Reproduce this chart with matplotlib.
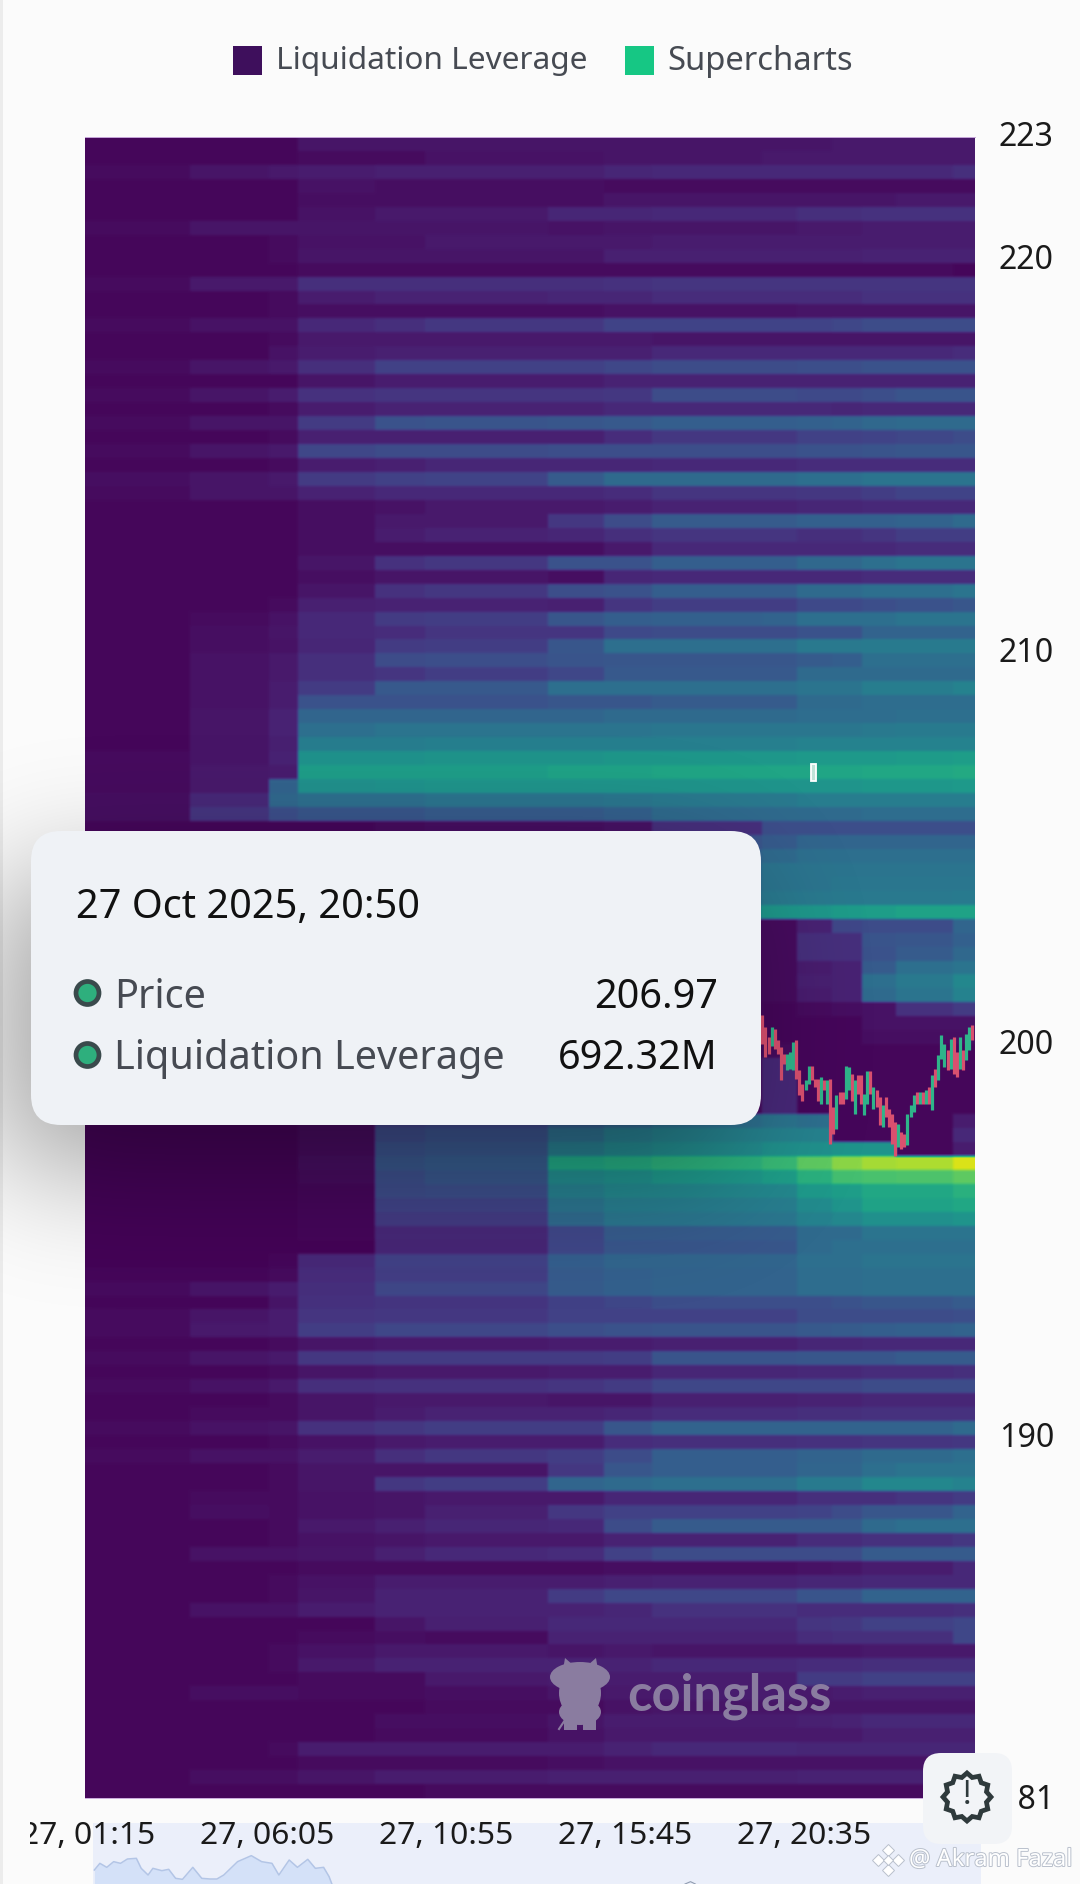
import math
import numpy as np
import matplotlib
matplotlib.use("Agg")
import matplotlib.pyplot as plt
from matplotlib.patches import FancyBboxPatch, Rectangle, Ellipse, Polygon, PathPatch, Circle
from matplotlib.path import Path
from matplotlib.transforms import Affine2D, Bbox, ScaledTranslation
from matplotlib.textpath import TextPath
from matplotlib.font_manager import FontProperties
import matplotlib.patheffects as pe

# ---------- data ----------
time_edges = [0, 170, 298, 345, 470, 551, 750, 841, 919, 1097, 1154, 1210, 1259, 1314, 1406, 1442]
price_top, price_bottom = 223.03, 180.76

liq_rows = [
 [2,2,2,6,6,6,6,6,6,6,6,7,7,7,7],
 [2,2,2,3,3,5,5,6,6,7,7,7,7,7,7],
 [3,6,7,8,9,9,9,11,12,12,12,12,12,12,14],
 [2,2,2,5,4,4,4,3,3,3,3,3,3,3,3],
 [2,2,2,4,4,4,4,6,6,6,6,6,6,7,7],
 [2,2,2,5,7,7,11,11,12,12,14,14,15,15,15],
 [3,6,6,6,6,6,5,6,6,6,7,7,8,8,8],
 [2,2,3,5,5,7,7,7,8,8,8,8,8,8,8],
 [2,2,3,6,6,6,6,9,9,9,9,9,10,10,10],
 [2,2,2,3,3,3,3,3,3,3,3,3,3,3,2],
 [3,7,7,14,14,14,14,15,16,16,16,16,16,16,16],
 [2,2,3,8,10,10,11,11,13,13,13,13,15,15,15],
 [2,2,3,4,4,4,4,5,5,5,6,6,6,6,6],
 [3,5,5,12,14,17,17,21,21,21,21,22,24,24,24],
 [2,2,3,7,7,7,7,7,6,6,6,6,6,6,6],
 [2,2,5,8,9,9,9,9,12,12,12,12,12,12,13],
 [3,6,7,14,20,20,20,22,24,24,25,25,26,26,26],
 [2,2,2,6,8,8,8,10,10,10,10,10,10,10,10],
 [3,6,8,15,16,16,16,17,24,24,23,23,25,27,27],
 [2,2,3,8,10,10,10,12,12,12,12,11,12,12,12],
 [3,6,6,18,26,27,28,29,31,31,32,33,35,36,36],
 [2,2,3,9,9,9,9,13,17,17,20,20,21,22,24],
 [3,6,7,22,24,24,25,25,25,25,26,26,27,28,28],
 [2,2,3,8,9,11,11,11,12,12,13,13,13,13,13],
 [4,6,7,18,20,21,30,36,36,36,38,38,40,40,40],
 [3,6,6,10,12,12,12,13,16,16,17,17,19,21,21],
 [2,2,2,4,5,7,7,8,10,10,11,11,12,12,12],
 [2,2,2,4,7,7,17,24,30,30,32,32,32,33,36],
 [2,2,2,4,8,10,11,14,16,16,14,14,16,19,19],
 [2,2,2,4,4,4,4,7,12,12,12,12,12,13,13],
 [2,2,2,6,15,17,26,26,31,31,35,35,38,40,40],
 [2,2,2,4,6,6,4,11,12,12,12,12,13,13,13],
 [2,2,2,6,15,17,25,26,31,31,36,36,38,38,40],
 [2,2,3,9,10,10,9,16,19,19,23,23,25,26,28],
 [2,3,5,12,18,19,28,31,32,33,38,38,38,40,40],
 [2,4,6,12,13,16,16,23,24,24,26,26,33,33,33],
 [2,4,5,11,18,19,28,38,38,38,42,42,43,43,43],
 [2,5,7,14,24,25,27,28,28,28,30,31,38,38,38],
 [2,5,7,14,16,19,22,29,29,29,36,36,36,36,36],
 [2,5,8,18,29,29,38,38,38,38,40,40,44,44,46],
 [2,5,8,26,26,26,28,28,30,30,36,36,37,37,37],
 [2,6,10,34,34,34,34,36,36,36,37,37,37,38,38],
 [2,6,10,38,40,40,40,40,41,41,41,41,42,43,43],
 [2,6,9,44,44,45,45,45,45,45,46,46,46,46,46],
 [3,6,10,53,53,54,54,55,55,55,56,56,56,57,58],
 [3,7,8,58,58,58,60,60,61,61,61,61,62,62,63],
 [3,7,33,52,53,54,54,54,54,54,54,54,55,55,56],
 [4,12,35,38,38,40,40,41,42,42,44,44,44,44,44],
 [4,16,25,28,28,30,30,32,36,36,36,36,37,37,37],
 [2,2,2,2,3,4,4,5,14,25,25,25,25,25,25],
 [2,4,6,18,22,24,26,26,27,30,34,34,34,34,34],
 [2,4,6,18,22,24,28,30,32,36,38,38,38,38,38],
 [2,4,6,20,24,26,30,32,35,40,40,40,40,40,40],
 [2,4,6,20,24,26,30,33,36,40,40,41,41,41,41],
 [2,4,6,22,26,28,32,35,38,42,42,42,42,42,43],
 [2,4,6,26,30,34,40,46,50,55,55,57,58,60,60],
 [2,2,3,4,4,4,3,3,3,3,10,22,24,24,34],
 [2,2,3,4,4,4,3,3,3,3,14,14,27,28,32],
 [2,2,3,4,4,4,3,3,3,3,14,14,26,30,35],
 [2,2,3,4,4,4,3,3,3,3,8,10,30,38,40],
 [2,2,3,4,4,4,3,3,3,3,9,10,38,42,48],
 [2,2,3,4,4,4,3,3,3,3,8,10,36,40,46],
 [2,2,3,4,4,4,3,3,3,2,3,4,5,15,18],
 [2,2,3,4,4,4,3,3,3,2,2,2,5,5,5],
 [2,2,3,4,4,4,3,3,3,2,2,2,4,4,4],
 [2,2,3,4,4,4,3,3,3,3,2,2,2,2,2],
 [2,2,3,4,4,4,3,3,3,12,2,2,2,2,2],
 [2,2,3,4,4,4,3,3,3,12,2,2,2,2,2],
 [2,2,3,4,4,4,3,3,3,12,2,2,2,2,2],
 [2,2,3,4,4,4,3,3,3,12,2,2,2,2,2],
 [1,1,1,3,20,22,30,34,38,40,38,2,2,2,8],
 [1,1,1,3,24,26,38,44,46,46,46,2,2,2,12],
 [1,1,1,3,26,28,44,48,50,52,52,54,54,2,8],
 [1,1,1,4,28,30,62,64,67,70,78,86,90,91,98],
 [1,1,1,3,25,28,50,52,55,58,66,73,74,75,78],
 [1,1,1,2,24,25,45,48,48,48,56,58,62,62,66],
 [1,1,1,2,21,21,40,44,44,44,50,54,60,60,62],
 [1,1,1,2,18,18,36,41,41,41,46,48,52,52,54],
 [1,1,1,2,12,12,22,30,30,30,36,36,40,40,40],
 [1,1,1,1,11,11,22,28,28,28,36,38,38,38,38],
 [1,1,2,12,20,20,31,34,34,34,38,38,40,40,40],
 [2,2,3,13,19,19,30,32,33,33,37,37,38,38,38],
 [3,6,8,14,22,22,30,32,33,33,37,37,38,38,38],
 [2,2,6,15,16,16,20,22,25,25,25,26,28,28,30],
 [3,6,8,16,17,17,20,20,20,20,24,24,24,24,25],
 [3,7,8,19,22,22,25,26,27,27,29,30,31,32,33],
 [2,2,3,6,7,7,8,8,9,9,11,11,12,12,12],
 [3,6,7,17,18,18,18,19,27,27,28,28,28,30,30],
 [2,2,3,6,7,7,8,8,11,11,12,12,13,13,14],
 [3,5,7,14,15,15,16,18,22,22,22,22,24,24,24],
 [2,2,3,6,7,7,6,6,9,9,10,10,11,11,11],
 [2,3,3,6,8,10,10,11,13,13,14,14,15,15,15],
 [3,5,6,15,17,19,19,28,33,33,33,33,33,33,36],
 [2,2,3,5,7,8,8,13,14,14,15,15,16,16,17],
 [3,5,5,8,14,17,19,24,31,31,33,33,36,36,38],
 [2,2,3,6,6,6,17,28,31,31,34,34,38,40,40],
 [2,2,3,6,17,19,34,36,38,38,43,43,48,48,46],
 [2,3,3,5,6,7,7,11,11,11,14,14,14,16,18],
 [2,4,3,5,6,9,17,20,20,20,21,24,28,28,33],
 [2,2,3,7,9,11,12,24,30,30,30,30,36,38,38],
 [2,2,3,5,6,7,7,10,10,10,13,13,15,15,17],
 [2,5,5,6,9,12,13,20,24,24,24,24,30,30,30],
 [2,2,2,3,3,3,3,4,4,4,5,6,8,8,12],
 [2,2,3,5,8,8,8,9,10,10,11,11,12,12,12],
 [2,2,3,6,10,10,18,22,22,22,27,27,33,33,33],
 [2,5,5,8,10,10,10,11,15,15,13,13,13,13,14],
 [2,2,2,2,6,9,12,12,12,12,16,17,20,20,22],
 [2,2,2,3,4,3,10,10,10,10,13,14,14,14,22],
 [2,2,3,5,7,7,6,7,6,6,6,6,7,7,7],
 [2,2,3,7,10,10,10,10,12,12,13,13,14,14,14],
 [2,2,2,3,3,7,8,8,8,8,18,18,20,20,20],
 [2,4,4,3,3,4,6,7,8,8,7,8,9,9,9],
 [2,2,2,2,2,3,3,5,6,6,6,6,6,6,6],
 [2,2,2,2,4,4,6,8,8,8,9,10,12,12,12],
 [2,2,2,2,3,3,5,7,7,7,7,7,9,9,9],
 [2,2,3,8,8,8,8,10,12,12,11,11,11,11,11],
 [2,2,2,3,3,3,4,5,5,5,5,5,5,5,5],
 [2,4,4,6,8,8,9,9,9,9,10,10,10,10,10],
 [2,2,2,2,2,3,3,3,3,3,3,3,3,3,3],
]

candle_highs = [200.68,200.38,200.12,200.38,200.34,200.04,199.87,199.70,199.70,199.74,200.00,200.04,
                199.28,198.94,199.02,199.38,199.38,199.07,199.07,199.11,199.02,199.02,199.07,198.34,
                198.64,198.73,198.73,199.40,199.36,199.19,199.02,199.15,199.15,198.68,199.26,199.26,
                198.85,198.77,198.60,198.39,198.60,198.30,198.17,197.96,197.92,197.71,197.67,198.17,
                198.39,198.64,198.73,198.73,198.73,198.77,198.85,199.15,199.32,199.66,200.17,199.96,
                199.79,200.08,200.12,199.74,200.12,199.79,200.21,200.38,200.42]
candle_lows = [199.96,199.62,199.70,199.91,199.83,199.70,199.02,199.45,199.28,199.32,199.28,199.07,
               198.64,198.51,198.77,198.94,199.02,198.85,198.51,198.43,198.77,198.43,197.41,197.67,
               197.79,198.43,198.43,198.56,198.77,198.51,198.17,198.68,198.43,198.13,198.43,198.68,
               198.30,198.34,197.88,197.84,198.09,197.84,197.41,197.11,197.33,197.28,197.33,197.37,
               198.09,198.22,198.43,198.43,198.43,198.43,198.43,198.26,198.85,199.02,199.57,199.36,
               199.28,199.32,199.19,199.11,199.32,199.28,199.53,199.79,200.04]
candle_up = [0,0,0,1,0,0,0,0,1,1,1,0,0,0,1,1,0,0,0,1,0,1,0,0,1,0,0,1,1,0,1,0,0,1,1,0,1,0,0,1,
             0,0,0,0,1,0,0,1,1,1,0,1,0,1,0,1,0,1,1,1,0,1,0,0,1,0,1,1,0]
candle_start_min, candle_step_min = 1097.5, 5

y_ticks = [223.03, 220, 210, 200, 190, 180.8]
y_labels = ['223', '220', '210', '200', '190', '181']
x_ticks = [5, 295, 585, 875, 1165]
x_labels = ['27, 01:15', '27, 06:05', '27, 10:55', '27, 15:45', '27, 20:35']

nav_x = [137,145,155,165,175,185,198,205,215,222,235,245,255,265,280,293,305,315,325,345,365,380,395,405,420,432,447,458,470,478,482]
nav_y = [42,62,50,67,62,75,77,47,27,47,40,44,17,14,50,17,15,15,27,67,85,67,62,27,72,50,74,47,50,22,0]

hover_time, hover_price = 1180, 206.86
series_names = ['Liquidation Leverage', 'Supercharts']
series_colors = ['#3E0F5C', '#16C784']

# ---------- helpers ----------
W, H, DPI = 1080, 1884, 100
BG = '#FBFBFB'
FONT = 'Noto Sans'

def fit(s, px, family=FONT, weight='normal'):
    fp = FontProperties(family=family, weight=weight)
    w = TextPath((0, 0), s, size=100, prop=fp).get_extents().width
    return 72.0 * px / w

def px_axes(x0, y0, x1, y1, **kw):
    return fig.add_axes([x0 / W, 1 - y1 / H, (x1 - x0) / W, (y1 - y0) / H], **kw)

def soften(a, axis):
    k = np.array([1, 2, 3, 2, 1], float) / 9
    pad = [(0, 0), (0, 0)]
    pad[axis] = (2, 2)
    b = np.pad(a, pad, mode='edge')
    return np.apply_along_axis(lambda v: np.convolve(v, k, mode='valid'), axis, b)

fig = plt.figure(figsize=(W / DPI, H / DPI), dpi=DPI, facecolor=BG)

# ---------- navigator ----------
nav = px_axes(93, 1823, 981, 1884, zorder=0)
nav.set_xlim(135, 1425); nav.set_ylim(0, 183)
nav.set_facecolor('#EBEFFA')
nav.fill_between(nav_x, nav_y, 0, color='#D4E1F8', lw=0)
nav.plot(nav_x, nav_y, color='#B3C5E6', lw=1.1)
nav.plot([995, 1003, 1010], [0, 7, 0], color='#8F9BB0', lw=0.8)
for s in nav.spines.values():
    s.set_visible(False)
nav.set_xticks([]); nav.set_yticks([])

# ---------- main heatmap ----------
ax = px_axes(85, 137, 975, 1798, zorder=1)
Z = np.array(liq_rows, dtype=float)
price_edges = np.linspace(price_top, price_bottom, Z.shape[0] + 1)
# resample the table onto the display grid so cell borders carry the reference's soft edge
t_fine = (np.arange(890) + 0.5) / 890 * time_edges[-1]
p_fine = price_top - (np.arange(1661) + 0.5) / 1661 * (price_top - price_bottom)
cols = np.searchsorted(time_edges, t_fine) - 1
rows = np.clip(np.searchsorted(-price_edges, -p_fine) - 1, 0, Z.shape[0] - 1)
fine = soften(soften(Z[rows][:, cols], 0), 1)
ax.imshow(fine, extent=(0, time_edges[-1], price_bottom, price_top), origin='upper', aspect='auto',
          cmap='viridis', vmin=0, vmax=104, interpolation='nearest')
ax.set_xlim(0, time_edges[-1]); ax.set_ylim(price_bottom, price_top)

# candles
times = candle_start_min + candle_step_min * np.arange(len(candle_highs))
colors = ['#2FB48A' if u else '#D9506F' for u in candle_up]
ax.vlines(times, candle_lows, candle_highs, colors=colors, lw=2.3, zorder=3)

# hovered candle
ax.add_patch(Rectangle((hover_time - 4.5, hover_price - 0.22), 9, 0.44, facecolor='#BFE3D8', edgecolor='white', lw=1.3, zorder=4))

ax.yaxis.tick_right()
tick_fs = fit('200', 52)
ax.set_yticks(y_ticks); ax.set_yticklabels(y_labels, fontsize=tick_fs, color='#1A1A1A', family=FONT)
ax.set_xticks(x_ticks)
ax.set_xticklabels(x_labels, fontsize=fit('27, 06:05', 131), color='#1A1A1A', family=FONT)
ax.tick_params(axis='y', length=0, pad=17)
ax.tick_params(axis='x', length=0, pad=16.5)
first = ax.get_yticklabels()[0]
first.set_transform(first.get_transform() + ScaledTranslation(0, 3 / DPI, fig.dpi_scale_trans))
clip = Bbox.from_extents(30, 0, W, H)
for lab in ax.get_xticklabels():
    lab.set_clip_box(clip); lab.set_clip_on(True)
for k, s in ax.spines.items():
    s.set_visible(k in ('top', 'bottom'))
    s.set_color('#C9A9DC'); s.set_linewidth(0.7)

# ---------- overlay ----------
ov = fig.add_axes([0, 0, 1, 1], zorder=2)
ov.patch.set_alpha(0)

# left edge strip
ov.add_patch(Rectangle((0, 0), 3, H, color='#ECECEC', lw=0, zorder=0))

# tooltip shadow
erf = np.vectorize(math.erf)
gx = np.arange(0, 1000, 4.0); gy = np.arange(560, 1560, 4.0)
sig = 62 * math.sqrt(2)
ax_x = 0.5 * (erf((gx - 0) / sig) - erf((gx - 730) / sig))
ax_y = 0.5 * (erf((gy - 875) / sig) - erf((gy - 1165) / sig))
alpha = 0.36 * np.outer(ax_y, ax_x)
rgba = np.zeros(alpha.shape + (4,)); rgba[..., 3] = alpha
ov.imshow(rgba, extent=(0, 1000, 1560, 560), aspect='auto', interpolation='bilinear', zorder=1)

# tooltip
ov.add_patch(FancyBboxPatch((31, 831), 730, 294, boxstyle='round,pad=0,rounding_size=30',
                            facecolor='#EFF2F6', edgecolor='none', zorder=2))
ov.text(76, 908, '27 Oct 2025, 20:50', fontsize=fit('27 Oct 2025, 20:50', 340), color='#111111', va='center', family=FONT, zorder=3)
tfs = fit('Liquidation Leverage', 385)
ov.text(114, 998, 'Price', fontsize=tfs, color='#464A52', va='center', family=FONT, zorder=3)
ov.text(114, 1059, series_names[0], fontsize=tfs, color='#464A52', va='center', family=FONT, zorder=3)
ov.text(718, 998, '206.97', fontsize=tfs, color='#111111', va='center', ha='right', family=FONT, zorder=3)
ov.text(718, 1059, '692.32M', fontsize=tfs, color='#111111', va='center', ha='right', family=FONT, zorder=3)
for cy in (993, 1055):
    ov.add_patch(Circle((87.5, cy), 11.5, facecolor='#2EAF7D', edgecolor='#3A4A4C', lw=3.4, zorder=3))

# legend
for x, c in zip((233, 625), series_colors):
    ov.add_patch(Rectangle((x, 46), 29, 29, facecolor=c, edgecolor='none', zorder=3))
ov.text(275.5, 61, series_names[0], fontsize=fit(series_names[0], 307), color='#464A52', va='center', family=FONT, zorder=3)
ov.text(667, 61, series_names[1], fontsize=fit(series_names[1], 183), color='#464A52', va='center', family=FONT, zorder=3)

# coinglass watermark
wm = '#8A7CA0'
ov.add_patch(Ellipse((580, 1677), 60, 30, color=wm, lw=0, zorder=3))
ov.add_patch(Polygon([(563, 1670), (565, 1658), (573, 1665), (588, 1665), (596, 1658), (598, 1670)], closed=True, color=wm, lw=0, zorder=3))
ov.add_patch(Ellipse((580, 1693), 42, 50, color=wm, lw=0, zorder=3))
ov.add_patch(Ellipse((580, 1712), 42, 26, color=wm, lw=0, zorder=3))
ov.add_patch(Rectangle((564, 1715), 13, 15, color=wm, lw=0, zorder=3))
ov.add_patch(Rectangle((583, 1715), 13, 15, color=wm, lw=0, zorder=3))
ov.plot([559, 565], [1729, 1720], color=wm, lw=1.5, zorder=3)
ov.text(627, 1711, 'coinglass', fontsize=fit('coinglass', 201, 'Lato', 'bold'), color=wm, va='baseline',
        family='Lato', weight='bold', zorder=3)

# feedback button
ov.add_patch(FancyBboxPatch((923, 1753), 89, 91, boxstyle='round,pad=0,rounding_size=18',
                            facecolor='#F2F4F7', edgecolor='none', zorder=4))
star = Path.unit_regular_star(12, innerCircle=0.84)
tr = Affine2D().scale(24, 24).translate(967, 1797) + ov.transData
ov.add_patch(PathPatch(star, transform=tr, facecolor='none', edgecolor='#2F3A3C', lw=3.4, zorder=5))
ov.text(967, 1795, '!', fontsize=23, weight='bold', color='#2F3A3C', ha='center', va='center', family=FONT, zorder=5)

# reposted-by watermark
ink = [pe.withStroke(linewidth=1.4, foreground='#B9C0CC')]
ov.text(909, 1860, '@ Akram Fazal', fontsize=fit('@ Akram Fazal', 160), color='white', va='center', family=FONT,
        path_effects=ink, zorder=6)
for dx, dy, ms in ((0, -10, 6), (0, 10, 6), (-10, 0, 6), (10, 0, 6), (0, 0, 5)):
    ov.plot([888 + dx], [1860 + dy], marker='D', ms=ms, mfc='white', mec='#B9C0CC', mew=0.7, ls='none', zorder=6)

ov.set_xlim(0, W); ov.set_ylim(H, 0)
ov.axis('off')
fig.savefig('out.png', dpi=DPI, facecolor=BG)
